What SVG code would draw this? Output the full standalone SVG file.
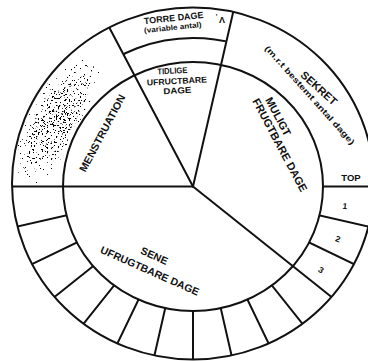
<svg xmlns="http://www.w3.org/2000/svg" width="368" height="361" viewBox="0 0 368 361">
<defs>
<style>
.ln{stroke:#111;stroke-width:2;fill:none;stroke-linecap:round}
.t{font-family:"Liberation Sans",Arial,sans-serif;font-weight:bold;fill:#111;text-anchor:middle}
</style>
<clipPath id="ring"><path clip-rule="evenodd" d="M12 183.5A181 176 0 1 0 374 183.5A181 176 0 1 0 12 183.5ZM63 186.5A130 124.5 0 1 0 323 186.5A130 124.5 0 1 0 63 186.5Z"/></clipPath>
<clipPath id="outer"><ellipse cx="193" cy="183.5" rx="181" ry="176"/></clipPath>
<clipPath id="topWedge"><polygon points="193,186.5 6.7,-168 282.8,-211.8"/></clipPath>
<clipPath id="menWedge"><polygon points="193,186.5 -300,186.5 -300,-400 6.7,-168"/></clipPath>
<radialGradient id="blobG">
<stop offset="0" stop-color="#000" stop-opacity="1"/>
<stop offset="0.6" stop-color="#000" stop-opacity="0.9"/>
<stop offset="1" stop-color="#000" stop-opacity="0.6"/>
</radialGradient>
<filter id="stip" x="0" y="0" width="368" height="361" filterUnits="userSpaceOnUse" color-interpolation-filters="sRGB">
<feTurbulence type="fractalNoise" baseFrequency="0.55" numOctaves="2" seed="7" result="n"/>
<feColorMatrix in="n" type="matrix" values="0 0 0 0 0  0 0 0 0 0  0 0 0 0 0  1 0 0 0 0" result="na"/>
<feComposite in="na" in2="SourceGraphic" operator="arithmetic" k1="0" k2="25" k3="12" k4="-26.3"/>
</filter>
</defs>
<rect width="368" height="361" fill="#fff"/>

<g id="menstruation-shading" clip-path="url(#ring)">
<g clip-path="url(#menWedge)">
<g filter="url(#stip)">
<ellipse cx="57" cy="120" rx="72" ry="29" transform="rotate(-62 57 120)" fill="url(#blobG)"/>
</g>
</g>
</g>

<g id="connectors">
<g id="ring-dividers" class="ln" clip-path="url(#ring)">
<line x1="193" y1="186.5" x2="393" y2="186.5"/>
<line x1="193" y1="186.5" x2="388" y2="231"/>
<line x1="193" y1="186.5" x2="373.2" y2="273.3"/>
<line x1="193" y1="186.5" x2="317.7" y2="342.9"/>
<line x1="193" y1="186.5" x2="279.8" y2="366.7"/>
<line x1="193" y1="186.5" x2="237.5" y2="381.5"/>
<line x1="193" y1="186.5" x2="193" y2="386.5"/>
<line x1="193" y1="186.5" x2="148.5" y2="381.5"/>
<line x1="193" y1="186.5" x2="106.2" y2="366.7"/>
<line x1="193" y1="186.5" x2="68.3" y2="342.9"/>
<line x1="193" y1="186.5" x2="36.6" y2="311.2"/>
<line x1="193" y1="186.5" x2="12.8" y2="273.3"/>
<line x1="193" y1="186.5" x2="-2" y2="231"/>
</g>
<g id="main-lines" class="ln" clip-path="url(#outer)">
<line x1="193" y1="186.5" x2="-7" y2="186.5"/>
<line x1="193" y1="186.5" x2="99.8" y2="9.5"/>
<line x1="193" y1="186.5" x2="237.9" y2="-8.4"/>
<line x1="193" y1="186.5" x2="349.4" y2="311.2"/>
</g>
<g id="torre-arc" clip-path="url(#topWedge)">
<ellipse class="ln" cx="193" cy="184" rx="152" ry="146"/>
</g>
<ellipse id="outer-circle" class="ln" cx="193" cy="183.5" rx="181" ry="176"/>
<ellipse id="inner-circle" class="ln" cx="193" cy="186.5" rx="130" ry="124.5"/>
</g>

<g id="torre">
<text class="t" font-size="9" transform="rotate(-6 174 21)" x="174" y="21">TORRE DAGE</text>
<text class="t" font-size="7.5" transform="rotate(-6 173 30)" x="173" y="30" textLength="58" lengthAdjust="spacingAndGlyphs">(variable antal)</text>
<text class="t" font-size="7" x="216.5" y="19">'</text>
<text class="t" font-size="9" x="222" y="23">Λ</text>
</g>

<g id="sekret">
<text class="t" font-size="11" transform="translate(319 88) rotate(42)" y="4">SEKRET</text>
<text class="t" font-size="8" transform="translate(310 95) rotate(48)" y="3" textLength="130" lengthAdjust="spacingAndGlyphs">(m.r.t bestemt antal dage)</text>
</g>

<g id="menstruation">
<text class="t" font-size="10.5" transform="translate(102 133) rotate(-62)" y="4" textLength="86" lengthAdjust="spacingAndGlyphs">MENSTRUATION</text>
</g>

<g id="tidlige" transform="rotate(-3 176 83)">
<text class="t" font-size="8.5" x="173" y="73.5" textLength="30" lengthAdjust="spacingAndGlyphs">TIDLIGE</text>
<text class="t" font-size="8.5" x="177" y="84" textLength="60" lengthAdjust="spacingAndGlyphs">UFRUCTBARE</text>
<text class="t" font-size="8.5" x="177" y="93.5" textLength="28" lengthAdjust="spacingAndGlyphs">DAGE</text>
</g>

<g id="muligt" transform="translate(280 145) rotate(62)">
<text class="t" font-size="11" x="-26" y="-8">MULIGT</text>
<text class="t" font-size="11" y="4" textLength="104" lengthAdjust="spacingAndGlyphs">FRUGTBARE DAGE</text>
</g>

<g id="sene" transform="translate(150 270.5) rotate(24)">
<text class="t" font-size="10.5" x="-2" y="-11.5">SENE</text>
<text class="t" font-size="10.5" y="4">UFRUGTBARE DAGE</text>
</g>

<g id="top-cells">
<text class="t" font-size="9.5" x="351" y="181">TOP</text>
<text class="t" font-size="8.5" transform="translate(345 206) rotate(6)" y="3">1</text>
<text class="t" font-size="8.5" transform="translate(338 239) rotate(19)" y="3">2</text>
<text class="t" font-size="8.5" transform="translate(321 270) rotate(32)" y="3">3</text>
</g>
</svg>
